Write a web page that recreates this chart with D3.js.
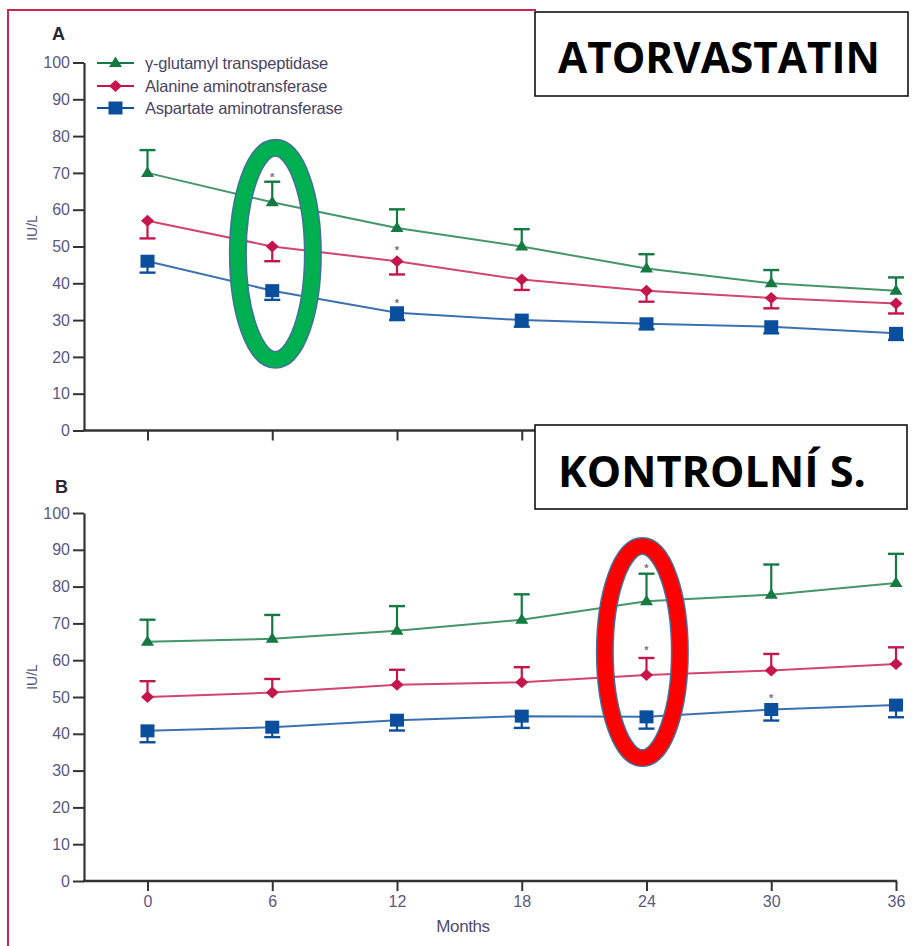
<!DOCTYPE html>
<html>
<head>
<meta charset="utf-8">
<script src="https://cdn.jsdelivr.net/npm/d3@7/dist/d3.min.js"></script>
<style>
  html, body { margin: 0; padding: 0; background: #fff; }
  svg { display: block; }
</style>
</head>
<body>
<script>
// ---- data ---------------------------------------------------------------
const months = [0, 6, 12, 18, 24, 30, 36];
const monthTicks = [0, 6, 12, 18, 24, 30, 36];
const valueTicks = [0, 10, 20, 30, 40, 50, 60, 70, 80, 90, 100];
const seriesNames = ["γ-glutamyl transpeptidase", "Alanine aminotransferase", "Aspartate aminotransferase"];

// Panel A – atorvastatin group (IU/L)
const ggtA    = [70, 62, 55, 50, 44, 40, 38];
const ggtAHi  = [76.2, 67.6, 60.1, 54.7, 47.9, 43.6, 41.6];
const altA    = [57, 50, 46, 41, 38, 36, 34.5];
const altALo  = [52.2, 46, 42.4, 38.2, 35, 33.2, 31.8];
const astA    = [46, 38, 32, 30, 29, 28.2, 26.4];
const astALo  = [42.9, 35.5, 30, 28.2, 27.5, 26.4, 24.6];

// Panel B – control group (IU/L)
const ggtB    = [65, 65.8, 68, 71, 76, 77.8, 81];
const ggtBHi  = [71, 72.3, 74.7, 77.9, 83.5, 86, 88.9];
const altB    = [50, 51.2, 53.3, 54, 56, 57.2, 59];
const altBHi  = [54.3, 54.9, 57.4, 58.1, 60.6, 61.7, 63.5];
const astB    = [40.8, 41.8, 43.7, 44.8, 44.6, 46.6, 47.8];
const astBLo  = [37.7, 39.1, 40.9, 41.6, 41.4, 43.6, 44.5];

// significance asterisks [month, IU/L]
const starsA = [[6, 69.4], [12, 49.5], [12, 35.3]];
const starsB = [[24, 85.7], [24, 63.3], [30, 50.4]];

// highlighted time points [month, IU/L]
const ringA = [6.15, 48];
const ringB = [23.8, 62.2];

const groupTitles = ["ATORVASTATIN", "KONTROLNÍ S."];
const panelLetters = ["A", "B"];
const yLabel = "IU/L";
const xLabel = "Months";

// ---- style ---------------------------------------------------------------
const W = 912, H = 946;
const colors = ["#157a42", "#c5164c", "#0a4e9e"];
const axisColor = "#333";
const tickText = "#5a5880";
const smallFont = "'Liberation Sans', Arial, sans-serif";

const svg = d3.select("body").append("svg")
  .attr("width", W).attr("height", H)
  .attr("viewBox", `0 0 ${W} ${H}`);

// page frame
svg.append("path")
  .attr("d", "M8,950 V10 H536")
  .attr("fill", "none").attr("stroke", "#c8284e").attr("stroke-width", 2);

const x = d3.scaleLinear().domain([0, 36]).range([147.5, 896]);
const axisLeftX = 84;

function panel(cfg) {
  const y = d3.scaleLinear().domain([0, 100]).range([cfg.y0, cfg.y100]);
  const g = svg.append("g");

  // y axis
  const ya = g.append("g").attr("transform", `translate(${axisLeftX},0)`)
    .call(d3.axisLeft(y).tickValues(valueTicks).tickSize(11).tickPadding(3).tickSizeOuter(0));
  ya.select(".domain").attr("stroke", axisColor).attr("stroke-width", 2.2);
  ya.selectAll(".tick line").attr("stroke", axisColor).attr("stroke-width", 2);
  ya.selectAll(".tick text").attr("fill", tickText)
    .style("font-family", smallFont).style("font-size", "16px");

  // x axis (domain line drawn from the y axis to the last month)
  const xa = g.append("g").attr("transform", `translate(0,${cfg.y0})`)
    .call(d3.axisBottom(x).tickValues(monthTicks).tickSize(10).tickPadding(5).tickSizeOuter(0));
  xa.select(".domain").remove();
  g.append("line")
    .attr("x1", axisLeftX - 1).attr("x2", x(36) + 1)
    .attr("y1", cfg.y0).attr("y2", cfg.y0)
    .attr("stroke", axisColor).attr("stroke-width", 2.4);
  xa.selectAll(".tick line").attr("stroke", axisColor).attr("stroke-width", 2);
  xa.selectAll(".tick text").attr("fill", tickText)
    .style("font-family", smallFont).style("font-size", "16px")
    .style("display", cfg.showXLabels ? null : "none");

  // panel letter and y title
  g.append("text").attr("x", cfg.letterX).attr("y", cfg.letterY)
    .text(cfg.letter).attr("fill", "#2b2630")
    .style("font-family", smallFont).style("font-weight", "bold").style("font-size", "18px");
  g.append("text")
    .attr("transform", `translate(37,${cfg.yLabelY}) rotate(-90)`)
    .attr("text-anchor", "middle").text(yLabel).attr("fill", tickText)
    .style("font-family", smallFont).style("font-size", "14px");

  const line = d3.line().x((d, i) => x(months[i])).y(d => y(d));

  cfg.series.forEach((s, k) => {
    const col = colors[k];
    // connecting line
    g.append("path").datum(s.values)
      .attr("d", line).attr("fill", "none")
      .attr("stroke", col).attr("stroke-width", 2).attr("stroke-opacity", 0.8);
    // error bars (one-sided)
    const eb = g.append("g");
    s.values.forEach((v, i) => {
      const e = s.err[i];
      const cx = x(months[i]);
      eb.append("line").attr("x1", cx).attr("x2", cx).attr("y1", y(v)).attr("y2", y(e))
        .attr("stroke", col).attr("stroke-width", 2.2);
      eb.append("line").attr("x1", cx - 8).attr("x2", cx + 8).attr("y1", y(e)).attr("y2", y(e))
        .attr("stroke", col).attr("stroke-width", 2.4);
    });
    // markers
    g.selectAll(null).data(s.values).join("path")
      .attr("d", (v, i) => markerPath(k, x(months[i]), y(v)))
      .attr("fill", col);
  });

  // asterisks
  g.selectAll(null).data(cfg.stars).join("text")
    .attr("x", d => x(d[0])).attr("y", d => y(d[1]) + 6)
    .attr("text-anchor", "middle").text("*")
    .attr("fill", "#7b6a88")
    .style("font-family", smallFont).style("font-size", "11px").style("font-weight", "bold");

  return y;
}

function markerPath(k, cx, cy) {
  if (k === 0) { // triangle
    return `M${cx},${cy - 6.5} L${cx + 6.5},${cy + 4} L${cx - 6.5},${cy + 4} Z`;
  }
  if (k === 1) { // diamond
    return `M${cx},${cy - 6} L${cx + 6.5},${cy} L${cx},${cy + 6} L${cx - 6.5},${cy} Z`;
  }
  return `M${cx - 7},${cy - 6.5} H${cx + 7} V${cy + 6.5} H${cx - 7} Z`; // square
}

const yA = panel({
  y0: 430.5, y100: 62.5, showXLabels: false,
  letter: panelLetters[0], letterX: 52, letterY: 40, yLabelY: 228,
  series: [
    { values: ggtA, err: ggtAHi },
    { values: altA, err: altALo },
    { values: astA, err: astALo }
  ],
  stars: starsA
});

const yB = panel({
  y0: 881, y100: 513, showXLabels: true,
  letter: panelLetters[1], letterX: 55, letterY: 493, yLabelY: 677,
  series: [
    { values: ggtB, err: ggtBHi },
    { values: altB, err: altBHi },
    { values: astB, err: astBLo }
  ],
  stars: starsB
});

// x title
svg.append("text").attr("x", 463).attr("y", 932).attr("text-anchor", "middle")
  .text(xLabel).attr("fill", "#4f4b6e")
  .style("font-family", smallFont).style("font-size", "17px").style("letter-spacing", "-0.4px");

// legend
const legend = svg.append("g");
const legendRows = [63, 86, 108];
seriesNames.forEach((name, k) => {
  const ly = legendRows[k];
  legend.append("line").attr("x1", 97).attr("x2", 134).attr("y1", ly).attr("y2", ly)
    .attr("stroke", colors[k]).attr("stroke-width", 2);
  legend.append("path").attr("d", markerPath(k, 115.5, ly)).attr("fill", colors[k]);
  legend.append("text").attr("x", 145).attr("y", ly + 5.5).text(name)
    .attr("fill", "#4a4462")
    .style("font-family", smallFont).style("font-size", "16.5px").style("letter-spacing", "-0.2px");
});

// highlight rings
function ring(pos, yScale, fill) {
  const cx = x(pos[0]), cy = yScale(pos[1]);
  svg.append("ellipse").attr("cx", cx).attr("cy", cy).attr("rx", 37.5).attr("ry", 106)
    .attr("fill", "none").attr("stroke", "#41719c").attr("stroke-width", 18);
  svg.append("ellipse").attr("cx", cx).attr("cy", cy).attr("rx", 37.5).attr("ry", 106)
    .attr("fill", "none").attr("stroke", fill).attr("stroke-width", 15);
}
ring(ringA, yA, "#00b050");
ring(ringB, yB, "#ff0000");

// group title boxes
function titleBox(bx, by, bw, bh, label, targetW, baseline) {
  svg.append("rect").attr("x", bx).attr("y", by).attr("width", bw).attr("height", bh)
    .attr("fill", "#fff").attr("stroke", "#111").attr("stroke-width", 1.6);
  const t = svg.append("text").attr("x", bx + 23).attr("y", baseline).text(label)
    .attr("fill", "#000")
    .style("font-family", "'Open Sans', 'Noto Sans', sans-serif")
    .style("font-weight", "bold").style("font-size", "50px");
  const w = t.node().getComputedTextLength();
  t.style("font-size", (50 * targetW / w).toFixed(2) + "px");
}
titleBox(535, 12, 373, 84, groupTitles[0], 322, 73);
titleBox(535, 425, 372, 84, groupTitles[1], 308, 487);
</script>
</body>
</html>
